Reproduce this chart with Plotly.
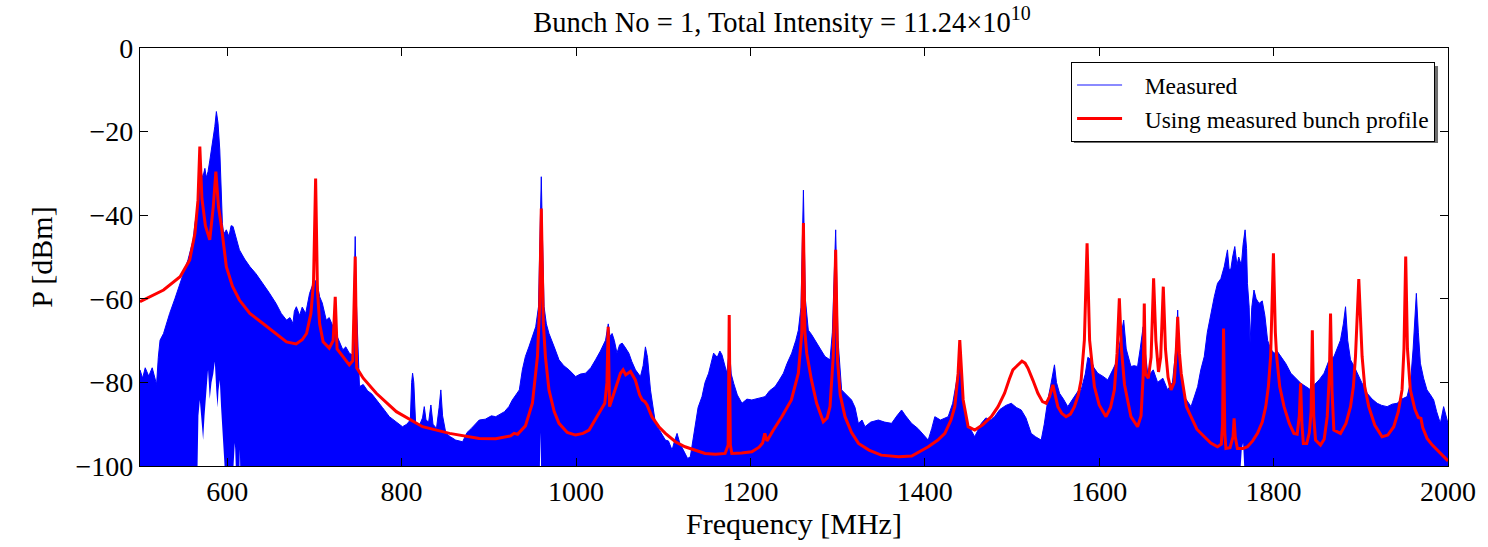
import plotly.graph_objects as go

# ---------------- data ----------------
# Model curve ("Using measured bunch profile")
model_freq = [500, 527, 546, 557, 563, 566.5, 568.6, 571, 575, 580, 584, 587, 590, 593.4, 599, 606, 614, 626, 641, 655,
              668, 679, 686, 691, 696, 699, 701.4, 703.5, 706, 710, 717, 721.5, 723.9, 726, 733, 740, 744, 746.8, 748.5, 756,
              771, 794, 824, 855, 889, 908, 925, 929, 933, 942, 950, 955.8, 958.3, 960.2, 962.5, 965, 969, 975, 980.5, 990,
              999.5, 1008, 1015, 1026, 1033, 1035.5, 1036.9, 1038.5, 1043.5, 1051, 1054, 1057, 1062.5, 1068, 1073, 1076, 1079, 1081.5, 1087, 1095,
              1102.5, 1114, 1125, 1137, 1148, 1160, 1171, 1174.5, 1175.7, 1177, 1178.7, 1190, 1201.6, 1210, 1214, 1216.5, 1219, 1226,
              1236, 1247, 1255, 1258.9, 1260.8, 1262.5, 1264.6, 1270, 1276, 1283.6, 1288, 1291.3, 1295, 1297.8, 1300, 1303, 1308.5, 1316,
              1324, 1336, 1350, 1370, 1385, 1404, 1415, 1423, 1430, 1434.4, 1438.2, 1440.1, 1442, 1444, 1449.7, 1457.3, 1466, 1476.3,
              1484, 1491.5, 1497, 1501, 1505, 1511.4, 1515, 1518.3, 1524, 1529.7, 1535, 1539.2, 1543, 1546.9, 1549.5, 1552.6, 1557, 1562,
              1567, 1571.6, 1576, 1579.3, 1583, 1586.1, 1589, 1594.5, 1600, 1607.8, 1613, 1617.4, 1620.5, 1623.1, 1625.5, 1629, 1636.4, 1644,
              1648, 1650.5, 1651.7, 1653, 1656.3, 1659.5, 1662.4, 1665, 1668, 1670.5, 1673.5, 1676, 1679, 1682.4, 1686, 1688.5, 1690, 1692,
              1694, 1700, 1705.3, 1712, 1720.6, 1728, 1735.7, 1740, 1741.5, 1742.6, 1744, 1745.3, 1750, 1753.5, 1754.7, 1756, 1758.5, 1765,
              1770, 1776, 1781.5, 1787, 1791, 1794, 1796.6, 1799.8, 1802, 1803.5, 1807, 1812, 1818, 1823.3, 1827, 1829.5, 1831, 1832.5,
              1834.1, 1838, 1841, 1843, 1844.4, 1846, 1848.1, 1853.8, 1858, 1861.5, 1864, 1865.3, 1867, 1869.1, 1876.7, 1883, 1888.2, 1891.5,
              1893.9, 1897.7, 1901.5, 1904.5, 1909.1, 1916, 1924.4, 1931, 1937.8, 1943, 1947.3, 1949.5, 1951.5, 1953.5, 1956.8, 1962, 1966, 1969,
              1971, 1976, 1982, 1987.4, 1993, 2000]
model_power = [-60.7, -57.9, -54.7, -50.7, -44.3, -36.4, -23.6, -36, -42.5, -45.9, -38, -29.6, -38, -42.7, -52.3, -57, -60.3, -63.5, -65.9, -68.3,
               -70.3, -70.8, -69.8, -68.3, -63.5, -56, -31.2, -58, -66, -70.3, -71.8, -70, -59.5, -72, -74, -75.8, -74.8, -49.9, -76.5, -79,
               -82.6, -87, -90.6, -92.2, -93.4, -93.5, -92.8, -92.2, -92.4, -90.4, -85, -73.8, -61.9, -38.4, -65.9, -74, -81.8, -87, -89.8, -92,
               -92.6, -92.2, -91.4, -87.4, -85, -80, -66.7, -85.8, -82.6, -77.8, -77, -78.2, -77.4, -79.4, -83, -84.2, -84.6, -85.4, -88.2, -90.6,
               -92.2, -94.2, -95.4, -96.3, -97, -97.2, -97, -95, -63.9, -95, -97, -96.9, -96.6, -95.5, -94.5, -92.2, -94, -91.5,
               -88.2, -84.2, -77.8, -68.3, -41.9, -68, -73, -79.4, -85, -89.4, -88.5, -85.8, -73.8, -48.3, -75, -83, -88.2, -92,
               -94.6, -96.2, -97.4, -97.8, -97.6, -95.4, -93.8, -92.2, -89, -85.8, -77.8, -69.9, -78, -84.2, -90.6, -91.4, -90.2, -88.2,
               -85.8, -82.6, -79.2, -77, -76.2, -74.9, -75.4, -76.6, -79.5, -82.6, -84.6, -85, -83.4, -80.6, -83, -85.8, -87.4, -88.2,
               -87.6, -85.8, -83, -79.4, -69.9, -46.7, -69.9, -81, -85.4, -88.2, -86, -81.8, -73, -59.9, -72, -80.5, -88.2, -90.6,
               -88, -78, -61.1, -78, -79, -74, -55.1, -70, -77.5, -74, -57.1, -72, -78.8, -81.8, -80, -72, -64.3, -73,
               -77.8, -85.8, -88.2, -91.2, -93, -94.5, -95.4, -94.8, -90, -67.1, -92, -95.8, -95.6, -93, -88.6, -93, -95.8, -95.8,
               -95.4, -94, -92.2, -89.5, -85.8, -81, -73.8, -49.1, -68, -73.8, -81, -85.8, -89.8, -92.2, -92.4, -88, -80.2, -90,
               -94.6, -94.6, -92, -87, -67.5, -88, -93.8, -95, -93.6, -88.2, -78, -63.5, -82, -91.4, -92.2, -89.8, -85.8, -81,
               -73.8, -55.3, -73.8, -81, -85.8, -90.2, -93, -92.6, -90.6, -87, -81.8, -72, -49.9, -72, -81.8, -86.4, -88.4, -88.6,
               -90.8, -93.4, -95, -96.2, -97.4, -98.8]

# Measured spectrum: upper envelope of the dense trace
meas_top_freq = [500, 503, 506, 510, 514, 517, 519, 521, 523, 527, 531, 534, 540, 546, 551, 555, 559, 561, 563, 565,
                 568, 570, 572, 574.4, 576, 578, 580, 582, 584, 585.8, 587.6, 589.5, 591.5, 593, 594.5, 596, 599, 602, 604.5, 606.7,
                 610, 614, 620, 626, 633, 641, 648, 656, 662, 668, 672, 675.4, 677, 679.3, 683, 686, 690, 694.5, 697, 700,
                 703, 706, 709, 713.6, 717, 721, 725, 729, 732.6, 736, 740, 744, 745.5, 746.8, 748, 751.7, 756, 761, 766, 770.8,
                 778, 786, 794, 801, 806, 810, 811.5, 812.6, 814, 816, 820, 824, 826, 828, 831, 833.6, 836, 840, 843, 845,
                 847, 850.8, 856, 862, 870, 875, 880, 889, 896, 903, 908, 913, 918, 923, 927, 931, 935, 938.5, 942, 946,
                 950, 953.8, 957, 959, 960.2, 961.5, 963.4, 966, 969, 975, 980.5, 986, 992, 999.6, 1005, 1011, 1017, 1022.4, 1028, 1033.9,
                 1037, 1039, 1041.4, 1044, 1047, 1050, 1052.9, 1056, 1060.6, 1064, 1068.2, 1073.9, 1077, 1079.6, 1082, 1085.4, 1088, 1091.1, 1096, 1102.5,
                 1106, 1110.2, 1113, 1115.9, 1119, 1125.4, 1128, 1131.1, 1134, 1136.8, 1140, 1144.5, 1148, 1152.1, 1157.8, 1162, 1165, 1167.4, 1171, 1173,
                 1176, 1178, 1180.8, 1185, 1190.3, 1196, 1201.6, 1208, 1216.9, 1222, 1228.3, 1233, 1237.9, 1242, 1247.4, 1252, 1255, 1258, 1260.8, 1263,
                 1266.4, 1270, 1274, 1280, 1285.5, 1291.3, 1294, 1297.8, 1300.5, 1304.6, 1310, 1316, 1320, 1323.8, 1328, 1331.4, 1338, 1346.7, 1354, 1361.9,
                 1368, 1373.4, 1378, 1384.8, 1392, 1398, 1403.9, 1408, 1411.5, 1418, 1426.8, 1432, 1438, 1440.1, 1442, 1447.6, 1452, 1457.2, 1461, 1464.8,
                 1470, 1476, 1480, 1486, 1493, 1499.2, 1505, 1510.6, 1516, 1522, 1527, 1533.5, 1537, 1541.1, 1545, 1548.7, 1551, 1554.5, 1559, 1564,
                 1568, 1571.6, 1576, 1579.3, 1584, 1587, 1590.6, 1594, 1598.3, 1604, 1609.8, 1615.5, 1620, 1624, 1628.1, 1631, 1636.4, 1640, 1644, 1647,
                 1650.4, 1653, 1656, 1662, 1667, 1673, 1678.5, 1684, 1688, 1690, 1692, 1697.6, 1701, 1705.3, 1709, 1712.9, 1716.5, 1720.5, 1724, 1728.1,
                 1732, 1735.7, 1739.5, 1743.4, 1747.1, 1749, 1751, 1753, 1755.5, 1758, 1760, 1763, 1765, 1767.3, 1769, 1770, 1772, 1773, 1775, 1777.5,
                 1780, 1783.3, 1787, 1790, 1793.1, 1796.5, 1800.7, 1804, 1808.3, 1814, 1819.8, 1825, 1831.2, 1837, 1842.7, 1847, 1852.2, 1857.9, 1863, 1869.3,
                 1873, 1876.7, 1880, 1882.5, 1885, 1888.2, 1892, 1895.9, 1901, 1907.3, 1913, 1918.8, 1924, 1930.2, 1936, 1941.6, 1947, 1953.1, 1957, 1960,
                 1963.7, 1966, 1968.3, 1972, 1975.9, 1980, 1983.6, 1987, 1991.2, 1995, 2000]
meas_top_power = [-77, -79, -76.5, -78.5, -76.5, -79, -80.5, -74, -69.9, -68.3, -65.5, -63.5, -60, -56.3, -53, -50.7, -47.5, -45.9, -42, -39.6,
                  -33, -29.5, -31, -28.8, -31, -29.6, -27, -24.4, -21, -18.8, -15.2, -18, -24.4, -35, -42, -44.5, -43.5, -45.1, -42.5, -42.7,
                  -45.5, -48.3, -50.5, -52.3, -54, -56.3, -58.5, -61.1, -63.5, -65.1, -64.5, -65.9, -63, -61.9, -64, -62, -63.5, -58.7, -57, -55.5,
                  -56, -59.5, -61, -65.1, -64.5, -66.5, -68.3, -70.5, -72.2, -71.5, -73, -73.5, -60, -45.1, -60, -81, -80.5, -82, -82.8, -84.2,
                  -86, -88.2, -89.5, -90.6, -90, -89, -80, -77.8, -80, -89.5, -90.5, -88.5, -85.8, -89, -89.5, -85.4, -90, -91, -86, -81.8,
                  -88, -92.2, -93, -93.8, -94.2, -92, -91, -89, -88.8, -88, -88.2, -87.5, -87, -85.8, -84.2, -83, -81.8, -77, -73.8, -71.5,
                  -69, -66.7, -61.9, -45, -30.8, -45, -61.9, -66, -68.3, -71.5, -74.6, -76, -77, -78.6, -78, -77.8, -76.5, -74.6, -72.5, -69.9,
                  -66, -69, -68.3, -70, -73, -71, -70.6, -71.5, -73, -75, -77, -78.6, -76, -71.5, -74, -81.8, -86, -89.8, -91.5, -93.8,
                  -94, -96.2, -94, -92.2, -94.5, -97, -98.2, -97.8, -94, -89.8, -86, -83.4, -80, -77.8, -73, -74, -72.5, -73.4, -76, -77.8,
                  -72, -78, -80.2, -83, -85, -84, -84.2, -83.8, -83.4, -82, -81, -79.5, -77.8, -75.5, -73, -70, -67.5, -62, -34, -60,
                  -67.5, -68.5, -69.9, -72, -73.8, -74.6, -68, -43.5, -70, -81.8, -83, -84.2, -86, -89.8, -89, -90.6, -89.5, -89, -89.5, -89.8,
                  -88, -86.6, -88, -89.8, -91, -92.5, -93.8, -91, -88.2, -89, -88.2, -85, -77.8, -70.5, -80, -89.8, -91, -93, -91.5, -89.8,
                  -88.5, -89, -88.2, -86.5, -85.5, -85, -86, -86.6, -88.5, -92.2, -93, -93.8, -90, -84.2, -80, -75.8, -80, -82.6, -84, -85.8,
                  -84.5, -83.4, -82, -81.8, -78, -74, -74.6, -76.5, -77.8, -78.5, -79.4, -77, -75, -70, -65.1, -72, -76.2, -76, -76.2, -72,
                  -66.7, -73, -78.5, -77, -80, -79, -81.8, -80, -72, -62.7, -75, -83.4, -84.5, -85.8, -83.5, -81, -77, -73.8, -68, -63.5,
                  -59.5, -56.3, -55.2, -52.3, -48.3, -53, -52.9, -50, -47.5, -52, -50, -52, -47, -43.5, -48, -56.3, -62, -70.6, -62, -57.9,
                  -60, -61.1, -60.5, -64, -69.9, -72, -73, -72.5, -73.8, -75.5, -77.8, -79, -80.2, -81, -81.8, -80.5, -79.4, -77.8, -75, -73.8,
                  -72, -69.9, -66, -61.9, -70, -74.6, -76, -77.8, -80, -82.6, -84, -85, -85.5, -85.8, -85.2, -85, -84, -83.4, -80, -72,
                  -58.7, -68, -75.4, -79, -81.8, -83, -84.2, -87, -89.8, -85.8, -89.8]

# Measured spectrum: lower envelope (white gaps at the bottom)
meas_low_freq = [500, 565, 566, 567, 568.6, 570, 572.4, 574, 576, 578, 580, 582, 584, 585.8, 587.5, 589, 590, 591.5, 593, 595.3,
                 597, 598, 607, 608.3, 608.7, 609.2, 610, 614, 614.5, 615, 958.5, 959.3, 960, 1762, 1763.5, 1765, 1766.5, 2000]
meas_low_power = [-101, -101, -100, -88, -84.2, -88, -93.8, -88, -82, -77, -84, -80, -78, -75, -82, -86, -82, -79.4, -86, -95.4,
                  -100, -101, -101, -96, -94.5, -96, -101, -101, -96, -101, -101, -92, -101, -101, -96, -94.5, -101, -101]

x_ticks = [600, 800, 1000, 1200, 1400, 1600, 1800, 2000]
y_ticks = [0, -20, -40, -60, -80, -100]

title_text = "Bunch No = 1, Total Intensity = 11.24×10<sup>10</sup>"
x_label = "Frequency [MHz]"
y_label = "P [dBm]"
legend_names = ["Measured", "Using measured bunch profile"]

# ---------------- figure ----------------
SERIF = "Liberation Serif, Times New Roman, serif"
BLUE = "rgb(0,0,255)"
RED = "rgb(255,0,0)"
PAD = "\u00a0\u00a0\u00a0"

fig = go.Figure()

fig.add_trace(go.Scatter(x=meas_low_freq, y=meas_low_power, mode="lines",
                         line=dict(width=0, color=BLUE), showlegend=False, hoverinfo="skip"))
fig.add_trace(go.Scatter(x=meas_top_freq, y=meas_top_power, mode="lines",
                         line=dict(width=1, color=BLUE), fill="tonexty", fillcolor=BLUE,
                         showlegend=False))
# legend entries (line samples)
fig.add_trace(go.Scatter(x=[None], y=[None], mode="lines", name=PAD + legend_names[0],
                         line=dict(width=2, color="rgba(60,60,255,0.6)")))
fig.add_trace(go.Scatter(x=model_freq, y=model_power, mode="lines", name=PAD + legend_names[1],
                         line=dict(width=3, color=RED)))

# plot area in pixels
L, R, T, B = 140, 1451, 48, 466
W, H = 1488, 547
pw, ph = R - L, B - T

def px_x(p):
    return (p - L) / pw

def px_y(p):
    return (B - p) / ph

# legend shadow
fig.add_shape(type="rect", xref="paper", yref="paper",
              x0=px_x(1076), x1=px_x(1441), y0=px_y(143), y1=px_y(66),
              fillcolor="rgb(110,110,110)", line=dict(width=0), layer="above")

axis_common = dict(showline=True, linecolor="black", linewidth=1.2, mirror="ticks",
                   ticks="inside", ticklen=8, tickwidth=1, tickcolor="black",
                   showgrid=False, zeroline=False,
                   tickfont=dict(family=SERIF, size=28, color="black"))

fig.update_xaxes(range=[500, 2000], tickvals=x_ticks, ticktext=[str(v) for v in x_ticks],
                 title=dict(text=x_label, font=dict(family=SERIF, size=30, color="black"), standoff=6),
                 **axis_common)
fig.update_yaxes(range=[-100, 0], tickvals=y_ticks,
                 ticktext=[("\u2212" + str(-v)) if v < 0 else str(v) for v in y_ticks],
                 title=dict(text=y_label, font=dict(family=SERIF, size=30, color="black"), standoff=14),
                 **axis_common)

fig.update_layout(
    width=W, height=H,
    margin=dict(l=L, r=W - R, t=T, b=H - B),
    paper_bgcolor="white", plot_bgcolor="white",
    title=dict(text=title_text, x=782 / W, xanchor="center", xref="container",
               y=1 - 22 / H, yanchor="middle", yref="container",
               font=dict(family=SERIF, size=28.5, color="black")),
    legend=dict(x=px_x(1073), y=px_y(62), xanchor="left", yanchor="top",
                bgcolor="white", bordercolor="black", borderwidth=1.2,
                font=dict(family=SERIF, size=23.5, color="black"),
                itemwidth=45, traceorder="normal"),
    showlegend=True,
)

fig.write_html("out.html")
